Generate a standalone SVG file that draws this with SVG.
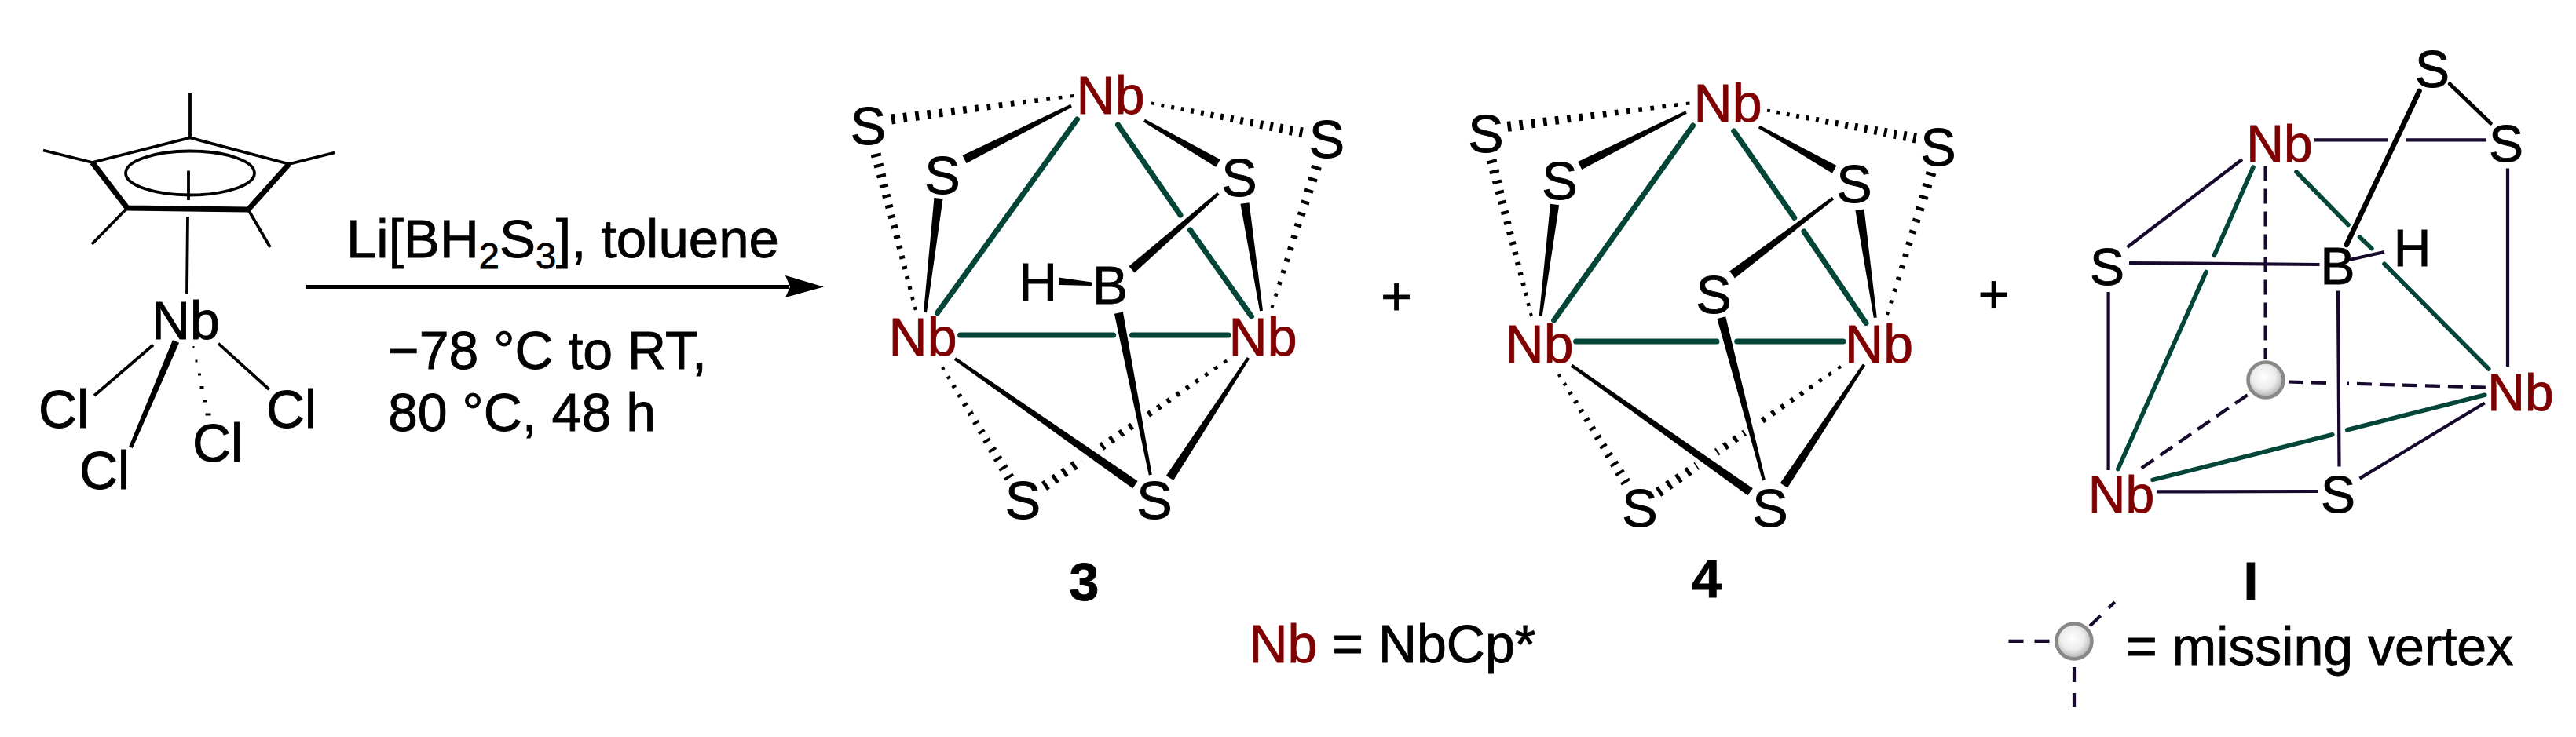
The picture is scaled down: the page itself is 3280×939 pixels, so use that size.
<svg xmlns="http://www.w3.org/2000/svg" width="3280" height="939" viewBox="0 0 3280 939">
<style>
text{font-family:"Liberation Sans",Arial,sans-serif;font-size:68px;fill:#000;stroke:#000;stroke-width:.9}
.m{text-anchor:middle}
.r{fill:#7f0000;stroke:#7f0000}
.b{font-weight:bold}
.i{font-size:66px}
.k{stroke:#000;fill:none;stroke-width:3.8}
.n{stroke:#17082e;fill:none;stroke-width:4.2}
.t{stroke:#034539;fill:none;stroke-width:7;stroke-linecap:round}
.c{stroke:#034539;fill:none;stroke-width:5.6;stroke-linecap:round}
.d{stroke:#17082e;fill:none;stroke-width:4.2;stroke-dasharray:19 10}
.g{stroke:#fff;fill:none;stroke-width:18}
.s{fill:url(#ball);stroke:#888;stroke-width:4.5}
</style>
<defs>
<radialGradient id="ball" cx="0.45" cy="0.42" r="0.6"><stop offset="0" stop-color="#fff"/><stop offset="0.55" stop-color="#ececec"/><stop offset="1" stop-color="#aaa"/></radialGradient>
<path id="w" d="M0-2L100-5.6V5.6L0 2Z"/>
<path id="h13" stroke="#000" stroke-width="2.2" fill="none" d="M1-2V2M9.2-2.4V2.4M17.3-2.8V2.8M25.5-3.1V3.1M33.7-3.5V3.5M41.8-3.9V3.9M50-4.3V4.3M58.2-4.6V4.6M66.3-5V5M74.5-5.4V5.4M82.7-5.7V5.7M90.8-6.1V6.1M99-6.5V6.5"/>
<path id="h16" stroke="#000" stroke-width="2" fill="none" d="M1-2V2M7.5-2.3V2.3M14.1-2.6V2.6M20.6-2.9V2.9M27.1-3.2V3.2M33.7-3.5V3.5M40.2-3.8V3.8M46.7-4.1V4.1M53.3-4.4V4.4M59.8-4.7V4.7M66.3-5V5M72.9-5.3V5.3M79.4-5.6V5.6M85.9-5.9V5.9M92.5-6.2V6.2M99-6.5V6.5"/>
<path id="h20" stroke="#000" stroke-width="1.6" fill="none" d="M1-2V2M6.2-2.3V2.3M11.3-2.5V2.5M16.5-2.7V2.7M21.6-3V3M26.8-3.2V3.2M32-3.4V3.4M37.1-3.7V3.7M42.3-3.9V3.9M47.4-4.1V4.1M52.6-4.4V4.4M57.7-4.6V4.6M62.9-4.8V4.8M68-5.1V5.1M73.2-5.3V5.3M78.4-5.5V5.5M83.5-5.8V5.8M88.7-6V6M93.8-6.2V6.2M99-6.5V6.5"/>
</defs>
<rect width="3280" height="939" fill="#fff"/>

<g id="connectors">
<g id="cp-bonds">
<path class="k" d="M242 119V175.5M117.5 207L55 191.5M368 209L426 194.5M162 265L117 311M316 267L344 315M117.5 207L242 175.5L368 209M240 217.5V255M239 276L238 374M195 439.5L120 504M278 437.6L342.5 496"/>
<ellipse class="k" cx="242" cy="220.5" rx="82" ry="28"/>
<path fill="none" stroke="#000" stroke-width="7" stroke-linejoin="round" d="M117.5 207L162 265L316 267L368 209"/>
<polygon points="228.1,436.8 219.9,433.2 164.2,569 168.8,571"/>
<path stroke="#000" stroke-width="3" fill="none" d="M245.5 442.5h2M248.5 460h3M252 477h4M254.5 493.5h5M258 511h6M261.5 528h7"/>
</g>
<g id="arrow">
<line x1="390" y1="365.5" x2="1005" y2="365.5" stroke="#000" stroke-width="5"/>
<polygon points="1049,365.5 1000,351 1006,365.5 1000,379"/>
</g>

<g id="bonds-3">
<use href="#h16" transform="matrix(-2.325 .3 -.128 -.994 1367.5 122)"/>
<use href="#h16" transform="matrix(-.507 -1.99 .971 -.247 1165.7 395)"/>
<use href="#h16" transform="matrix(1.925 .376 -.192 .982 1466 131.4)"/>
<use href="#h13" transform="matrix(.57 -1.8 .952 .302 1619.5 392)"/>
<use href="#h13" transform="matrix(.854 1.41 -.855 .518 1200 468)"/>
<use href="#h20" transform="matrix(-2.336 1.61 -.567 -.823 1562.6 459)"/>
<path class="g" d="M1401 567.5L1376 584.7M1456 530L1442 540"/>
<path class="t" d="M1193.5 398.7L1371.5 152M1423.5 159L1503 274M1515.5 293L1593.5 403M1222.6 427H1417.7M1441.5 427H1564"/>
<use href="#w" transform="matrix(-1.36 .684 -.449 -.894 1364 134.6)"/>
<use href="#w" transform="matrix(.17 -1.454 .993 .116 1178 398)"/>
<use href="#w" transform="matrix(.94 .545 -.501 .865 1457 153.5)"/>
<use href="#w" transform="matrix(-.21 -1.37 .988 -.152 1606 396)"/>
<use href="#w" transform="matrix(-1.103 .968 -.659 -.751 1551.3 246.6)"/>
<use href="#w" transform="matrix(-.404 -2.063 .981 -.192 1464.8 605)"/>
<use href="#w" transform="matrix(2.295 1.606 -.574 .82 1216 457)"/>
<use href="#w" transform="matrix(-1 1.53 -.837 -.547 1589.5 456)"/>
<polygon points="1348,353.5 1348,363 1390,364 1390,359.5"/>
</g>

<g id="bonds-4">
<use href="#h16" transform="matrix(-2.32 .3 -.128 -.992 2151.5 131.4)"/>
<use href="#h16" transform="matrix(-.51 -1.992 .969 -.248 1950 403)"/>
<use href="#h16" transform="matrix(1.898 .354 -.183 .983 2250 140.6)"/>
<use href="#h13" transform="matrix(.56 -1.81 .955 .296 2403 401)"/>
<use href="#h13" transform="matrix(.857 1.38 -.85 .528 1984.7 477)"/>
<use href="#h20" transform="matrix(-2.334 1.612 -.568 -.823 2344.4 466.5)"/>
<path class="g" d="M2186 576.5L2161 593.7M2234 539L2220 549"/>
<path class="t" d="M1978.6 408L2155.6 160M2207.7 167L2284.7 277.5M2297 295L2376 411.6M2006.6 435H2186M2211.7 435H2347"/>
<use href="#w" transform="matrix(-1.353 .68 -.449 -.894 2147 143)"/>
<use href="#w" transform="matrix(.179 -1.425 .992 .125 1961.7 403)"/>
<use href="#w" transform="matrix(.959 .544 -.493 .869 2239.8 161.4)"/>
<use href="#w" transform="matrix(-.198 -1.373 .99 -.143 2387.8 404.7)"/>
<use href="#w" transform="matrix(-1.284 .974 -.604 -.797 2334 252.6)"/>
<use href="#w" transform="matrix(-.542 -2.073 .967 -.253 2246 612)"/>
<use href="#w" transform="matrix(2.276 1.613 -.578 .816 2001 465.5)"/>
<use href="#w" transform="matrix(-1.021 1.539 -.833 -.553 2373.5 464.6)"/>
</g>

<g id="bonds-I">
<path class="d" d="M2884.6 211.4V457.6M2914 486.5L3168.8 493.7M2861.6 503.3L2720.8 600.6"/>
<path stroke="#fff" stroke-width="6" fill="none" d="M2962 487.8L2988 488.5"/>
<path class="n" d="M2855 203L2708.6 315M2711 335L2953.5 337M2684.6 372V599M2746 626.4L2952 626M2977 370.6L2978.5 594.6M2947 178.4H3040M3063 178.4H3166M3193 214.4V467M3004.5 609.6L3163.7 513.5M2991.4 331L3036 321"/>
<path class="c" d="M2869 213L2819.3 325.5M2809 346.5L2696.8 597.6M2924 219L2990 286.5M3004.5 302L3019.8 316.5M3036 336.3L3168.8 470M2741 611.4L2969.8 553.8M2988.7 547.7L3163.7 503.3"/>
<path fill="none" stroke="#000" stroke-width="6.5" stroke-linecap="round" d="M2987.7 312L3080.5 116"/>
<path fill="none" stroke="#000" stroke-width="5" stroke-linecap="round" d="M3119.3 107L3171.3 157"/>
</g>
<g id="legend-bonds">
<path class="d" d="M2557.5 816.8H2611.6M2661 797.6L2692.8 767M2641 850V901" style="stroke-dasharray:19 14"/>
</g>
</g>

<g id="cp-star"><text x="193" y="432">Nb</text></g>
<g id="cl-1"><text x="49" y="545">Cl</text></g>
<g id="cl-2"><text x="101" y="623">Cl</text></g>
<g id="cl-3"><text x="245" y="588">Cl</text></g>
<g id="cl-4"><text x="339" y="545">Cl</text></g>
<g id="reagents"><text x="441" y="328" style="font-size:69px">Li[BH<tspan font-size="46" dy="14" style="font-size:47px">2</tspan><tspan dy="-14">S</tspan><tspan dy="14" style="font-size:47px">3</tspan><tspan dy="-14">], toluene</tspan></text></g>
<g id="conditions-1"><text x="494" y="470">−78 °C to RT,</text></g>
<g id="conditions-2"><text x="494" y="549">80 °C, 48 h</text></g>

<g id="n3-nb-top"><text class="m r" x="1414" y="145">Nb</text></g>
<g id="n3-nb-left"><text class="m r" x="1175" y="453">Nb</text></g>
<g id="n3-nb-right"><text class="m r" x="1608" y="453">Nb</text></g>
<g id="n3-s-tl"><text class="m" x="1105.5" y="184">S</text></g>
<g id="n3-s-il"><text class="m" x="1200" y="247">S</text></g>
<g id="n3-s-ir"><text class="m" x="1578" y="250">S</text></g>
<g id="n3-s-tr"><text class="m" x="1689.5" y="201">S</text></g>
<g id="n3-s-bl"><text class="m" x="1302.5" y="661">S</text></g>
<g id="n3-s-br"><text class="m" x="1470" y="661">S</text></g>
<g id="n3-h"><text class="m" x="1321.5" y="383">H</text></g>
<g id="n3-b"><text class="m" x="1413.5" y="387">B</text></g>
<g id="label-3"><text class="m b" x="1380.5" y="765">3</text></g>

<g id="plus-1"><text class="m" x="1778" y="401">+</text></g>

<g id="n4-nb-top"><text class="m r" x="2200" y="154.5">Nb</text></g>
<g id="n4-nb-left"><text class="m r" x="1960" y="462">Nb</text></g>
<g id="n4-nb-right"><text class="m r" x="2392.5" y="462">Nb</text></g>
<g id="n4-s-tl"><text class="m" x="1892" y="193.6">S</text></g>
<g id="n4-s-il"><text class="m" x="1986" y="253.5">S</text></g>
<g id="n4-s-ir"><text class="m" x="2361" y="258">S</text></g>
<g id="n4-s-tr"><text class="m" x="2468" y="210.7">S</text></g>
<g id="n4-s-mid"><text class="m" x="2182" y="398.7">S</text></g>
<g id="n4-s-bl"><text class="m" x="2088" y="670.6">S</text></g>
<g id="n4-s-br"><text class="m" x="2254" y="670.6">S</text></g>
<g id="label-4"><text class="m b" x="2173" y="761">4</text></g>

<g id="plus-2"><text class="m" x="2538.7" y="397.6">+</text></g>

<g id="nI-s-top"><text class="m i" x="3097" y="111">S</text></g>
<g id="nI-s-right"><text class="m i" x="3191" y="206">S</text></g>
<g id="nI-nb-top"><text class="m i r" x="2902.5" y="206">Nb</text></g>
<g id="nI-nb-left"><text class="m i r" x="2701" y="653">Nb</text></g>
<g id="nI-nb-right"><text class="m i r" x="3209.5" y="522.5">Nb</text></g>
<g id="nI-s-left"><text class="m i" x="2683" y="363">S</text></g>
<g id="nI-b"><text class="m i" x="2976.5" y="362">B</text></g>
<g id="nI-h"><text class="m i" x="3071.5" y="339">H</text></g>
<g id="nI-s-bottom"><text class="m i" x="2977" y="653">S</text></g>
<g id="nI-vertex"><circle class="s" cx="2885" cy="484" r="22.5"/></g>
<g id="label-I"><text class="m b" x="2866" y="764">I</text></g>

<g id="legend-nb"><text x="1590.5" y="844"><tspan class="r">Nb</tspan> = NbCp*</text></g>
<g id="legend-vertex"><circle class="s" cx="2641" cy="817" r="22.5"/></g>
<g id="legend-text"><text x="2707" y="847">= missing vertex</text></g>
</svg>
